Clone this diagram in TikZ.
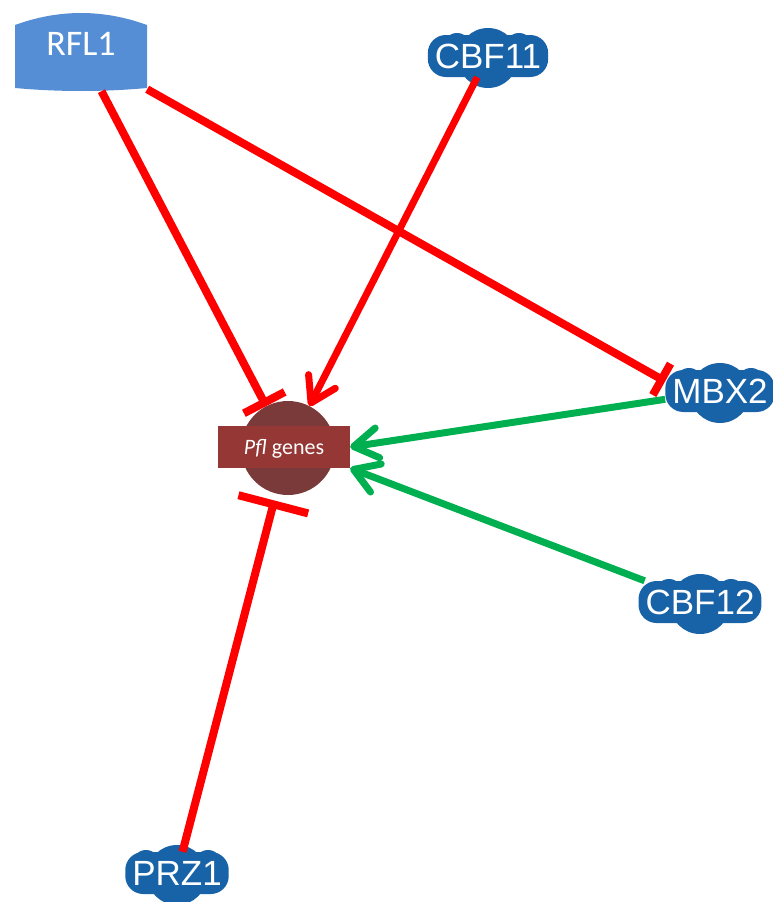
\documentclass[tikz,border=0pt]{standalone}
\usepackage{fontspec}
\setmainfont{Carlito}
\newfontfamily\genefont{Liberation Sans}
\usetikzlibrary{arrows.meta}

\definecolor{inhred}{RGB}{255,0,0}
\definecolor{actgreen}{RGB}{0,176,80}
\definecolor{rflblue}{RGB}{85,142,213}
\definecolor{cloudblue}{RGB}{24,98,168}
\definecolor{pflbrown}{RGB}{123,58,58}
\definecolor{pflred}{RGB}{149,55,53}

\tikzset{
  gene/.style={rectangle, rounded corners=18pt, fill=cloudblue, text=white,
    font=\genefont\fontsize{35}{35}\selectfont, inner xsep=7pt,
    minimum height=42pt},
  rflbox/.style={rectangle, minimum width=132pt, minimum height=78pt,
    text=white, font=\fontsize{36}{36}\selectfont, text height=23pt,
    text depth=16pt},
  inhib/.style={draw=inhred, line width=8pt},
  act/.style={line width=7pt, -{Straight Barb[length=24pt, width=30pt, round]}},
}

% puffs behind a gene label
\newcommand{\cloudbumps}[1]{%
  \begin{scope}[shift={(#1)}]
    \fill[cloudblue] (0,2) ellipse (30 and 30);
    \fill[cloudblue] (-31,-9) circle (14);
    \fill[cloudblue] (31,-9) circle (14);
  \end{scope}}

\begin{document}
\begin{tikzpicture}[x=1pt, y=1pt, yscale=-1]
\useasboundingbox (0,0) rectangle (773,902);

% RFL1
\path[fill=rflblue] (15,88) -- (15,25) .. controls (59,9) and (103,9) ..
  (147,25) -- (147,88) .. controls (103,92) and (59,92) .. cycle;
\node[rflbox] (rfl) at (81,52) {RFL1};

% Pfl genes
\node[circle, fill=pflbrown, minimum size=94pt, inner sep=0pt] (pfl) at (288,448) {};
\node[rectangle, fill=pflred, minimum width=132pt, minimum height=42pt,
  text=white, font=\fontsize{22}{22}\selectfont, text depth=0pt]
  (pflbox) at (284,447) {\textit{Pfl} genes};

% regulators
\cloudbumps{488,56}
\node[gene] (cbf11) at (488,56) {CBF11};
\cloudbumps{720,391}
\node[gene] (mbx2) at (720,391) {MBX2};
\cloudbumps{700,602}
\node[gene] (cbf12) at (700,602) {CBF12};
\cloudbumps{177,873}
\node[gene] (prz1) at (177,873) {PRZ1};

\draw[inhib, -{Bar[width=46pt]}] (rfl) -- (pfl);
\draw[inhib, -{Bar[width=36pt]}] (rfl) -- (mbx2.170);
\draw[act, draw=inhred] (cbf11) -- (pfl);
\draw[act, draw=actgreen] (mbx2) -- (pflbox.east);
\draw[act, draw=actgreen] (cbf12) -- (pflbox.south east);
\draw[inhib, -{Bar[width=72pt]}, shorten >=7pt] (prz1) -- (pfl);

\end{tikzpicture}
\end{document}
